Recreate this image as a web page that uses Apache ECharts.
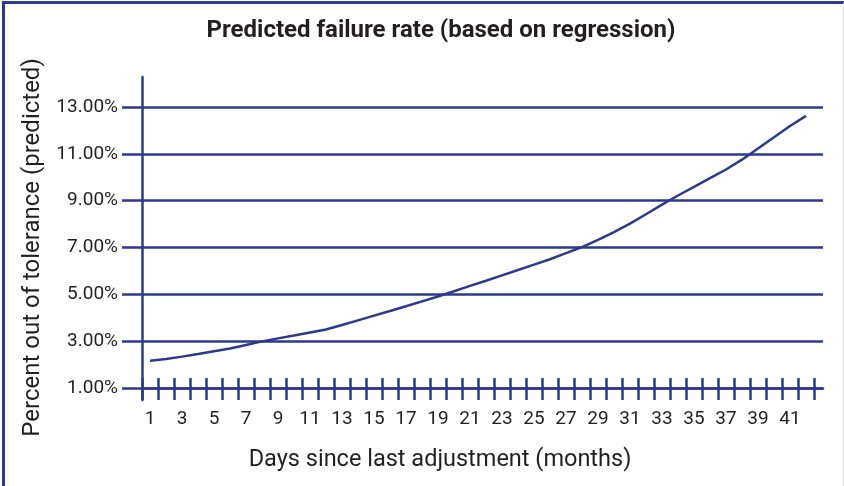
<!DOCTYPE html>
<html>
<head>
<meta charset="utf-8">
<script src="https://cdn.jsdelivr.net/npm/echarts@6/dist/echarts.min.js"></script>
<style>
  html, body { margin: 0; padding: 0; background: #fff; }
  #wrap { position: relative; width: 844px; height: 486px; overflow: hidden; }
  #chart { width: 844px; height: 486px; }
  #frame {
    position: absolute; left: 2px; top: 1px; width: 838px; height: 500px;
    border-left: 3px solid #2b3a8c; border-top: 3px solid #2b3a8c;
    border-right: 1px solid #dcdcdc; pointer-events: none;
  }
</style>
</head>
<body>
<div id="wrap">
  <div id="chart"></div>
  <div id="frame"></div>
</div>
<script>
  // months 1..42
  const months = [];
  for (let m = 1; m <= 42; m++) months.push(String(m));

  // predicted percent out of tolerance
  const failureRate = [
    2.16, 2.24, 2.34, 2.45, 2.57, 2.69, 2.84, 2.99, 3.12, 3.24,
    3.37, 3.50, 3.69, 3.89, 4.09, 4.29, 4.49, 4.70, 4.91, 5.13,
    5.36, 5.58, 5.81, 6.04, 6.27, 6.50, 6.76, 7.02, 7.33, 7.66,
    8.02, 8.42, 8.83, 9.22, 9.59, 9.96, 10.33, 10.75, 11.23, 11.71,
    12.19, 12.62
  ];

  const yMin = 1, yMax = 13, yStep = 2;

  const NAVY = "#2b3a8c";
  const TEXT = "#231f20";
  const FONT = "Roboto";
  const LW = 2.5;

  const chart = echarts.init(document.getElementById("chart"));

  chart.setOption({
    animation: false,
    title: [
      {
        text: "Predicted failure rate (based on regression)",
        left: 441, top: 19, padding: 0, textAlign: "center",
        textStyle: { fontFamily: FONT, fontSize: 24, fontWeight: "bold", color: TEXT }
      },
      {
        text: "Days since last adjustment (months)",
        left: 440, top: 448, padding: 0, textAlign: "center",
        textStyle: { fontFamily: FONT, fontSize: 23.5, fontWeight: "normal", color: TEXT }
      }
    ],
    grid: [
      // data + category ticks
      { left: 142, right: 30, top: 107, bottom: 98 },
      // gridlines / value labels (run a bit past the last tick)
      { left: 142, right: 21, top: 107, bottom: 98 },
      // tall y axis line
      { left: 142, right: 21, top: 77, bottom: 86 }
    ],
    xAxis: [
      {
        gridIndex: 0, type: "category", data: months, boundaryGap: true,
        offset: -10,
        axisLine: { show: false },
        axisTick: { show: true, interval: 0, length: 22, lineStyle: { color: NAVY, width: LW } },
        axisLabel: { interval: 1, margin: 32, fontFamily: FONT, fontSize: 19, color: TEXT },
        splitLine: { show: false }
      },
      {
        gridIndex: 1, type: "value", min: 0, max: 1,
        axisLine: { show: true, lineStyle: { color: NAVY, width: LW } },
        axisTick: { show: false }, axisLabel: { show: false }, splitLine: { show: false }
      },
      { gridIndex: 2, type: "value", min: 0, max: 1, show: false }
    ],
    yAxis: [
      { gridIndex: 0, type: "value", min: yMin, max: yMax, show: false },
      {
        gridIndex: 1, type: "value", min: yMin, max: yMax, interval: yStep,
        name: "Percent out of tolerance (predicted)",
        nameLocation: "middle", nameGap: 93,
        nameTextStyle: { fontFamily: FONT, fontSize: 24, color: TEXT },
        axisLine: { show: false },
        axisTick: { show: true, length: 20, lineStyle: { color: NAVY, width: LW } },
        axisLabel: {
          margin: 24, fontFamily: FONT, fontSize: 19, color: TEXT,
          formatter: (v) => v.toFixed(2) + "%"
        },
        splitLine: { show: true, lineStyle: { color: NAVY, width: LW } }
      },
      {
        gridIndex: 2, type: "value", min: 0, max: 1,
        axisLine: { show: true, lineStyle: { color: NAVY, width: LW } },
        axisTick: { show: false }, axisLabel: { show: false }, splitLine: { show: false }
      }
    ],
    series: [
      {
        name: "Predicted", type: "line",
        xAxisIndex: 0, yAxisIndex: 0,
        data: failureRate,
        showSymbol: false, smooth: false, z: 5,
        lineStyle: { color: NAVY, width: LW }
      }
    ]
  });
</script>
</body>
</html>
